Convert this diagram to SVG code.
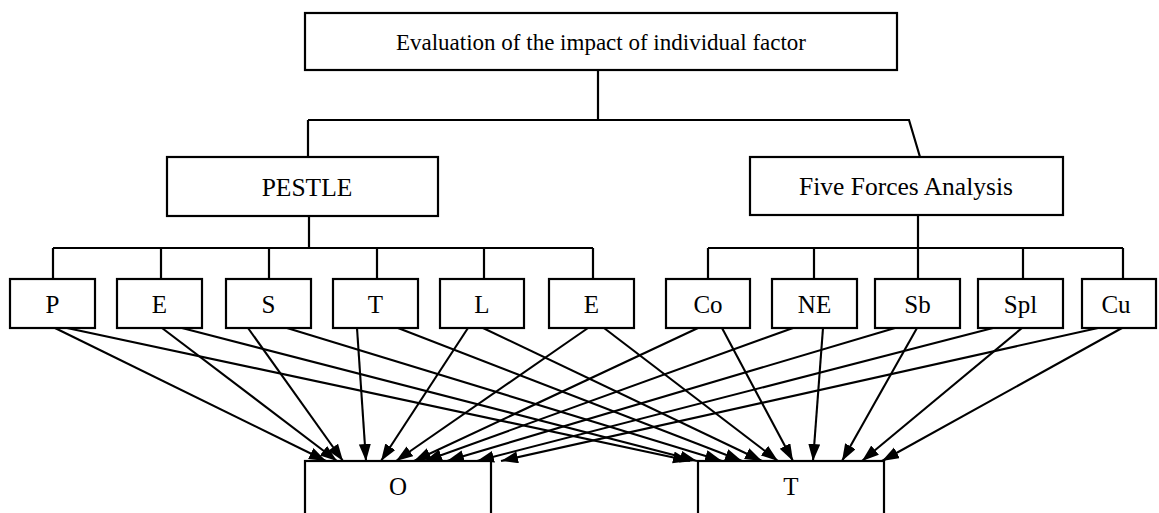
<svg xmlns="http://www.w3.org/2000/svg" width="1159" height="513" viewBox="0 0 1159 513">
<style>
.box{fill:#fff;stroke:#000;stroke-width:2.2}
.t{font-family:"Liberation Serif","Times New Roman",serif;fill:#000;text-anchor:middle}
.big{font-size:25.5px}
.top{font-size:23px}
.sm{font-size:25px}
.ln{fill:none;stroke:#000;stroke-width:2.2}
.ar{fill:none;stroke:#000;stroke-width:2.1;marker-end:url(#ah)}
</style>
<defs>
<marker id="ah" markerUnits="userSpaceOnUse" markerWidth="18" markerHeight="13" refX="17" refY="6" orient="auto">
<path d="M0,0 L17,6 L0,12 z" fill="#000"/>
</marker>
</defs>
<rect width="1159" height="513" fill="#fff"/>
<g id="connectors">
<path class="ln" d="M598,70 V120 M308,120 H909 L920,157 M308,120 V157"/>
<path class="ln" d="M309,216 V248 M53,248 H593 M53,248 V279 M161,248 V279 M269,248 V279 M377,248 V279 M484,248 V279 M593,248 V279"/>
<path class="ln" d="M918,215 V248 M708,248 H1123 M708,248 V279 M814,248 V279 M918,248 V279 M1023,248 V279 M1123,248 V279"/>
<line class="ar" x1="55" y1="328" x2="326" y2="461"/>
<line class="ar" x1="162" y1="328" x2="337" y2="461"/>
<line class="ar" x1="248" y1="328" x2="343" y2="461"/>
<line class="ar" x1="357" y1="328" x2="366" y2="461"/>
<line class="ar" x1="468" y1="328" x2="381" y2="461"/>
<line class="ar" x1="588" y1="328" x2="396" y2="461"/>
<line class="ar" x1="698" y1="328" x2="414" y2="461"/>
<line class="ar" x1="793" y1="328" x2="425" y2="461"/>
<line class="ar" x1="895" y1="328" x2="447" y2="461"/>
<line class="ar" x1="993" y1="328" x2="477" y2="461"/>
<line class="ar" x1="1098" y1="328" x2="501" y2="461"/>
<line class="ar" x1="67" y1="328" x2="690" y2="461"/>
<line class="ar" x1="182" y1="328" x2="697" y2="461"/>
<line class="ar" x1="287" y1="328" x2="722" y2="461"/>
<line class="ar" x1="398" y1="328" x2="742" y2="461"/>
<line class="ar" x1="483" y1="328" x2="762" y2="461"/>
<line class="ar" x1="604" y1="328" x2="778" y2="461"/>
<line class="ar" x1="722" y1="328" x2="793" y2="461"/>
<line class="ar" x1="823" y1="328" x2="813" y2="461"/>
<line class="ar" x1="917" y1="328" x2="842" y2="461"/>
<line class="ar" x1="1022" y1="328" x2="862" y2="461"/>
<line class="ar" x1="1122" y1="328" x2="882" y2="461"/>
</g>
<g id="root"><rect class="box" x="305" y="13" width="592" height="57"/><text class="t top" x="601" y="50">Evaluation of the impact of individual factor</text></g>
<g id="pestle"><rect class="box" x="167" y="157" width="271" height="59"/><text class="t big" x="307" y="196">PESTLE</text></g>
<g id="fiveforces"><rect class="box" x="750" y="157" width="313" height="58"/><text class="t big" x="906" y="195">Five Forces Analysis</text></g>
<g id="p"><rect class="box" x="10" y="279" width="85" height="49"/><text class="t sm" x="52.5" y="313">P</text></g>
<g id="e1"><rect class="box" x="117" y="279" width="85" height="49"/><text class="t sm" x="159.5" y="313">E</text></g>
<g id="s"><rect class="box" x="226" y="279" width="85" height="49"/><text class="t sm" x="268.5" y="313">S</text></g>
<g id="t1"><rect class="box" x="333" y="279" width="85" height="49"/><text class="t sm" x="375.5" y="313">T</text></g>
<g id="l"><rect class="box" x="440" y="279" width="84" height="49"/><text class="t sm" x="482" y="313">L</text></g>
<g id="e2"><rect class="box" x="549" y="279" width="85" height="49"/><text class="t sm" x="591.5" y="313">E</text></g>
<g id="co"><rect class="box" x="666" y="279" width="84" height="49"/><text class="t sm" x="708" y="313">Co</text></g>
<g id="ne"><rect class="box" x="772" y="279" width="85" height="49"/><text class="t sm" x="814.5" y="313">NE</text></g>
<g id="sb"><rect class="box" x="875" y="279" width="85" height="49"/><text class="t sm" x="917.5" y="313">Sb</text></g>
<g id="spl"><rect class="box" x="978" y="279" width="85" height="49"/><text class="t sm" x="1020.5" y="313">Spl</text></g>
<g id="cu"><rect class="box" x="1082" y="279" width="74" height="49"/><text class="t sm" x="1116" y="313">Cu</text></g>
<g id="o"><rect class="box" x="305" y="461" width="186" height="80"/><text class="t sm" x="398" y="495">O</text></g>
<g id="t2"><rect class="box" x="698" y="461" width="186" height="80"/><text class="t sm" x="791" y="495">T</text></g>
</svg>
